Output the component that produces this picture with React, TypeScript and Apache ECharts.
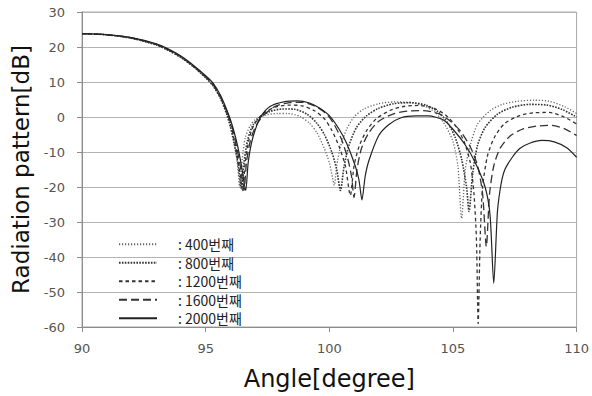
import React, { useEffect, useRef } from "react";
import * as echarts from "echarts";

const seriesNames = ["400번째", "800번째", "1200번째", "1600번째", "2000번째"];
const xTicks = [90, 95, 100, 105, 110];
const yTicks = [-60, -50, -40, -30, -20, -10, 0, 10, 20, 30];

const s400: number[][] = [
  [90, 23.8], [91, 23.5], [92, 22.5], [93, 20.6], [93.5, 19.0], [94, 17.0], [94.5, 14.4], [95, 11.3], [95.3, 9.0], [95.6, 5.5], [95.85, 1.0], [96.0, -2.5], [96.15, -7], [96.28, -13], [96.38, -20], [96.48, -12], [96.6, -6], [96.8, -2.5], [97.0, -0.8], [97.4, 0.5], [97.9, 1.0], [98.3, 1.0], [98.8, 0.2], [99.2, -1.8], [99.5, -4.5], [99.8, -9], [100.0, -13], [100.12, -17], [100.2, -19.5], [100.3, -14], [100.45, -8.5], [100.7, -3.5], [101.0, 0], [101.4, 2.3], [102.0, 3.8], [102.6, 4.3], [103.2, 4.2], [103.8, 3.3], [104.3, 1.2], [104.7, -2.5], [105.0, -7], [105.2, -14], [105.35, -29], [105.5, -15], [105.7, -8], [106.0, -2], [106.5, 1.8], [107.0, 3.6], [107.6, 4.5], [108.3, 4.8], [108.9, 4.5], [109.5, 3.0], [110, 1.0],
];

const s800: number[][] = [
  [90, 23.8], [91, 23.5], [92, 22.5], [93, 20.6], [93.5, 19.0], [94, 17.0], [94.5, 14.4], [95, 11.2], [95.3, 8.9], [95.6, 5.3], [95.85, 0.8], [96.0, -2.8], [96.15, -7.5], [96.3, -13], [96.45, -20.5], [96.55, -13], [96.7, -6.5], [96.9, -2.5], [97.2, 0], [97.6, 1.6], [98.1, 2.3], [98.6, 2.2], [99.1, 0.8], [99.5, -1.8], [99.8, -5], [100.1, -10], [100.3, -15], [100.45, -21], [100.6, -14], [100.8, -8], [101.1, -3], [101.5, 0.3], [102.0, 2.5], [102.6, 3.8], [103.3, 4.1], [103.9, 3.4], [104.4, 1.5], [104.8, -1.8], [105.1, -6], [105.35, -12], [105.55, -20], [105.65, -27], [105.8, -16], [106.0, -8], [106.3, -3], [106.8, 0.8], [107.4, 2.8], [108.1, 3.6], [108.8, 3.4], [109.4, 2.2], [110, 0],
];

const s1200: number[][] = [
  [90, 23.8], [91, 23.5], [92, 22.6], [93, 20.7], [93.5, 19.1], [94, 17.1], [94.5, 14.5], [95, 11.4], [95.3, 9.2], [95.6, 5.6], [95.9, 0.5], [96.05, -3.2], [96.2, -8], [96.35, -14], [96.5, -21], [96.6, -13], [96.75, -6.5], [96.95, -2.3], [97.3, 0.8], [97.8, 2.8], [98.4, 3.4], [98.9, 3.2], [99.4, 1.8], [99.8, -0.5], [100.1, -3.8], [100.4, -8.5], [100.65, -14], [100.85, -22.4], [101.0, -14], [101.2, -8.5], [101.5, -4], [101.9, -0.5], [102.5, 2], [103.0, 3.0], [103.6, 3.3], [104.2, 2.6], [104.7, 0.6], [105.1, -2.5], [105.45, -7], [105.7, -13], [105.85, -22], [105.95, -35], [106.02, -59], [106.1, -35], [106.2, -20], [106.4, -11], [106.7, -5.5], [107.1, -1.8], [107.7, 0.4], [108.3, 1.2], [108.9, 1.3], [109.5, 0], [110, -2],
];

const s1600: number[][] = [
  [90, 23.8], [91, 23.5], [92, 22.6], [93, 20.8], [93.5, 19.2], [94, 17.2], [94.5, 14.6], [95, 11.6], [95.3, 9.4], [95.6, 5.8], [95.9, 0.8], [96.1, -3.5], [96.25, -8.5], [96.4, -14], [96.55, -21], [96.65, -13], [96.8, -7], [97.0, -3], [97.3, 0.2], [97.8, 3.0], [98.4, 4.1], [98.9, 4.2], [99.4, 3.2], [99.9, 0.8], [100.2, -2.2], [100.5, -6.5], [100.75, -12], [100.9, -17], [101.0, -23], [101.12, -15], [101.3, -9], [101.6, -4.5], [102.0, -1.2], [102.6, 0.9], [103.2, 1.7], [103.8, 1.8], [104.4, 1.0], [104.9, -1.2], [105.3, -4], [105.7, -8.5], [106.0, -14], [106.2, -22], [106.35, -37], [106.48, -22], [106.65, -14], [106.9, -9], [107.3, -5.5], [107.8, -3.5], [108.4, -2.6], [109.0, -2.4], [109.5, -3.3], [110, -5.3],
];

const s2000: number[][] = [
  [90, 23.8], [91, 23.5], [92, 22.7], [93, 20.9], [93.5, 19.4], [94, 17.4], [94.5, 14.8], [95, 11.8], [95.3, 9.7], [95.6, 6.2], [95.9, 1.2], [96.1, -3], [96.3, -8.5], [96.45, -14], [96.62, -21], [96.72, -13], [96.85, -7.5], [97.0, -3.8], [97.2, -0.2], [97.6, 3.0], [98.2, 4.4], [98.7, 4.6], [99.2, 4.0], [99.6, 2.6], [100.0, 0.4], [100.4, -3.5], [100.7, -7.5], [101.05, -14], [101.2, -18], [101.32, -23.7], [101.45, -17], [101.6, -12.5], [102.0, -5.3], [102.4, -2.2], [102.9, -0.2], [103.5, 0.3], [104.0, 0.3], [104.6, -0.8], [105.0, -3.5], [105.5, -8], [105.9, -13], [106.3, -20], [106.5, -28], [106.65, -47.5], [106.8, -27], [106.95, -19], [107.1, -15], [107.4, -11.5], [107.7, -9], [108.1, -7.5], [108.6, -6.7], [109.1, -7.1], [109.6, -8.8], [110, -11.5],
];

const seriesData = [s400, s800, s1200, s1600, s2000];

const lineStyles = [
  { color: "#666", width: 1.3, type: [1.2, 1.8] },
  { color: "#333", width: 1.6, type: [1.6, 1.3] },
  { color: "#333", width: 1.3, type: [3.5, 3] },
  { color: "#333", width: 1.3, type: [8, 4] },
  { color: "#222", width: 1.2, type: "solid" },
];

export default function App() {
  const ref = useRef<HTMLDivElement>(null);
  useEffect(() => {
    if (!ref.current) return;
    const chart = echarts.init(ref.current, undefined, { renderer: "svg" });
    chart.setOption({
      animation: false,
      backgroundColor: "#fff",
      grid: {
        left: 82,
        right: 14,
        top: 12,
        bottom: 68,
        show: true,
        borderColor: "#a8a8a8",
        borderWidth: 1,
      },
      legend: {
        orient: "vertical",
        left: 118,
        top: 235,
        padding: 0,
        itemWidth: 38,
        itemHeight: 10,
        itemGap: 0,
        formatter: ": {name}",
        data: seriesNames,
        itemStyle: { opacity: 0 },
        textStyle: {
          fontFamily: "Noto Sans CJK KR",
          fontSize: 14,
          lineHeight: 18.5,
          color: "#222",
          padding: [0, 0, 0, 16],
        },
      },
      xAxis: {
        type: "value",
        min: xTicks[0],
        max: xTicks[xTicks.length - 1],
        interval: 5,
        name: "Angle[degree]",
        nameLocation: "middle",
        nameGap: 40,
        nameTextStyle: { fontFamily: "DejaVu Sans", fontSize: 24, color: "#111" },
        axisLine: { show: true, onZero: false, lineStyle: { color: "#8c8c8c" } },
        axisTick: { show: true, length: 5, lineStyle: { color: "#8c8c8c" } },
        axisLabel: { margin: 15, fontFamily: "DejaVu Sans", fontSize: 13, color: "#555" },
        splitLine: { show: false },
      },
      yAxis: {
        type: "value",
        min: yTicks[0],
        max: yTicks[yTicks.length - 1],
        interval: 10,
        name: "Radiation pattern[dB]",
        nameLocation: "middle",
        nameGap: 50,
        nameTextStyle: { fontFamily: "DejaVu Sans", fontSize: 23, color: "#111" },
        axisLine: { show: true, onZero: false, lineStyle: { color: "#8c8c8c" } },
        axisTick: { show: true, length: 5, lineStyle: { color: "#8c8c8c" } },
        axisLabel: { margin: 17, fontFamily: "DejaVu Sans", fontSize: 13, color: "#555" },
        splitLine: { show: true, lineStyle: { color: "#b4b4b4", width: 1 } },
      },
      series: seriesNames.map((name, i) => ({
        name,
        type: "line",
        data: seriesData[i],
        symbol: "none",
        smooth: 0.25,
        lineStyle: lineStyles[i],
        itemStyle: { color: lineStyles[i].color },
      })),
    });
    return () => chart.dispose();
  }, []);
  return (
    <div
      ref={ref}
      style={{ position: "absolute", left: 0, top: 0, width: 592, height: 396 }}
    />
  );
}
